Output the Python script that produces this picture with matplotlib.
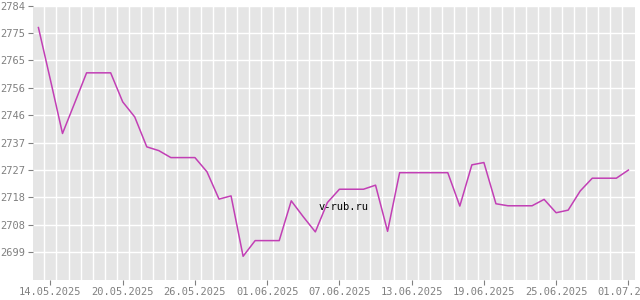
import numpy as np
import pandas as pd
import matplotlib
matplotlib.use("Agg")
import matplotlib.pyplot as plt
import matplotlib.dates as mdates
import matplotlib.ticker as mticker

# daily rate, 13.05.2025 .. 01.07.2025
dates = pd.date_range("2025-05-13", "2025-07-01", freq="D")
rates = [
    2776.8, 2758.7, 2740.3, 2750.7, 2761.2, 2761.2, 2761.2, 2751.2, 2746.0, 2735.7,
    2734.4, 2732.0, 2732.0, 2732.0, 2727.1, 2717.7, 2718.8, 2698.0, 2703.4, 2703.4,
    2703.4, 2717.1, 2711.6, 2706.4, 2716.5, 2721.1, 2721.1, 2721.1, 2722.5, 2706.6,
    2726.8, 2726.8, 2726.8, 2726.8, 2726.8, 2715.3, 2729.5, 2730.3, 2716.1, 2715.4,
    2715.4, 2715.4, 2717.6, 2713.0, 2713.9, 2720.5, 2724.9, 2724.9, 2724.9, 2727.7,
]
ytick_labels = ["2784", "2775", "2765", "2756", "2746", "2737", "2727", "2718", "2708", "2699"]
xtick_labels = ["14.05.2025", "20.05.2025", "26.05.2025", "01.06.2025", "07.06.2025",
                "13.06.2025", "19.06.2025", "25.06.2025", "01.07.2025"]

y_lo, y_hi = 2690.0, 2784.4
grey = "#808080"

fig = plt.figure(figsize=(6.4, 3.0), dpi=100)
ax = fig.add_axes([33 / 640, 1 - 279.5 / 300, (635 - 33) / 640, (279.5 - 5.5) / 300])
ax.set_facecolor("#e5e5e5")
for s in ax.spines.values():
    s.set_visible(False)

x = mdates.date2num(dates)
ax.plot(x, rates, color="#c23fb5", lw=1.1, zorder=3)

ax.set_xlim(x[0] - 0.45, x[-1] + 0.55)
ax.set_ylim(y_lo, y_hi)

# y ticks: 10 evenly spaced from the top
yt = np.linspace(y_hi, y_lo, 11)[:-1]
ax.set_yticks(yt)
ax.set_yticklabels(ytick_labels)

# x ticks every 6 days from 14.05
xt = [mdates.date2num(pd.Timestamp(d[6:] + "-" + d[3:5] + "-" + d[:2])) for d in xtick_labels]
ax.set_xticks(xt)
ax.set_xticklabels(xtick_labels)
ax.xaxis.set_minor_locator(mticker.FixedLocator(x[:-1] + 0.5))

ax.grid(True, axis="y", which="major", color="white", lw=1.0)
ax.grid(True, axis="x", which="minor", color="white", lw=1.0)
ax.grid(False, axis="x", which="major")
ax.tick_params(axis="x", which="minor", length=0)
ax.tick_params(axis="both", which="major", colors=grey, length=3.5, width=0.8,
               labelsize=7.5, pad=2)
for lab in ax.get_xticklabels() + ax.get_yticklabels():
    lab.set_family("DejaVu Sans Mono")
    lab.set_color(grey)

fig.text(343.5 / 640, 1 - 207 / 300, "v-rub.ru", ha="center", va="center",
         family="DejaVu Sans Mono", fontsize=7.5, color="black", zorder=5)

fig.savefig("out.png", dpi=100)
